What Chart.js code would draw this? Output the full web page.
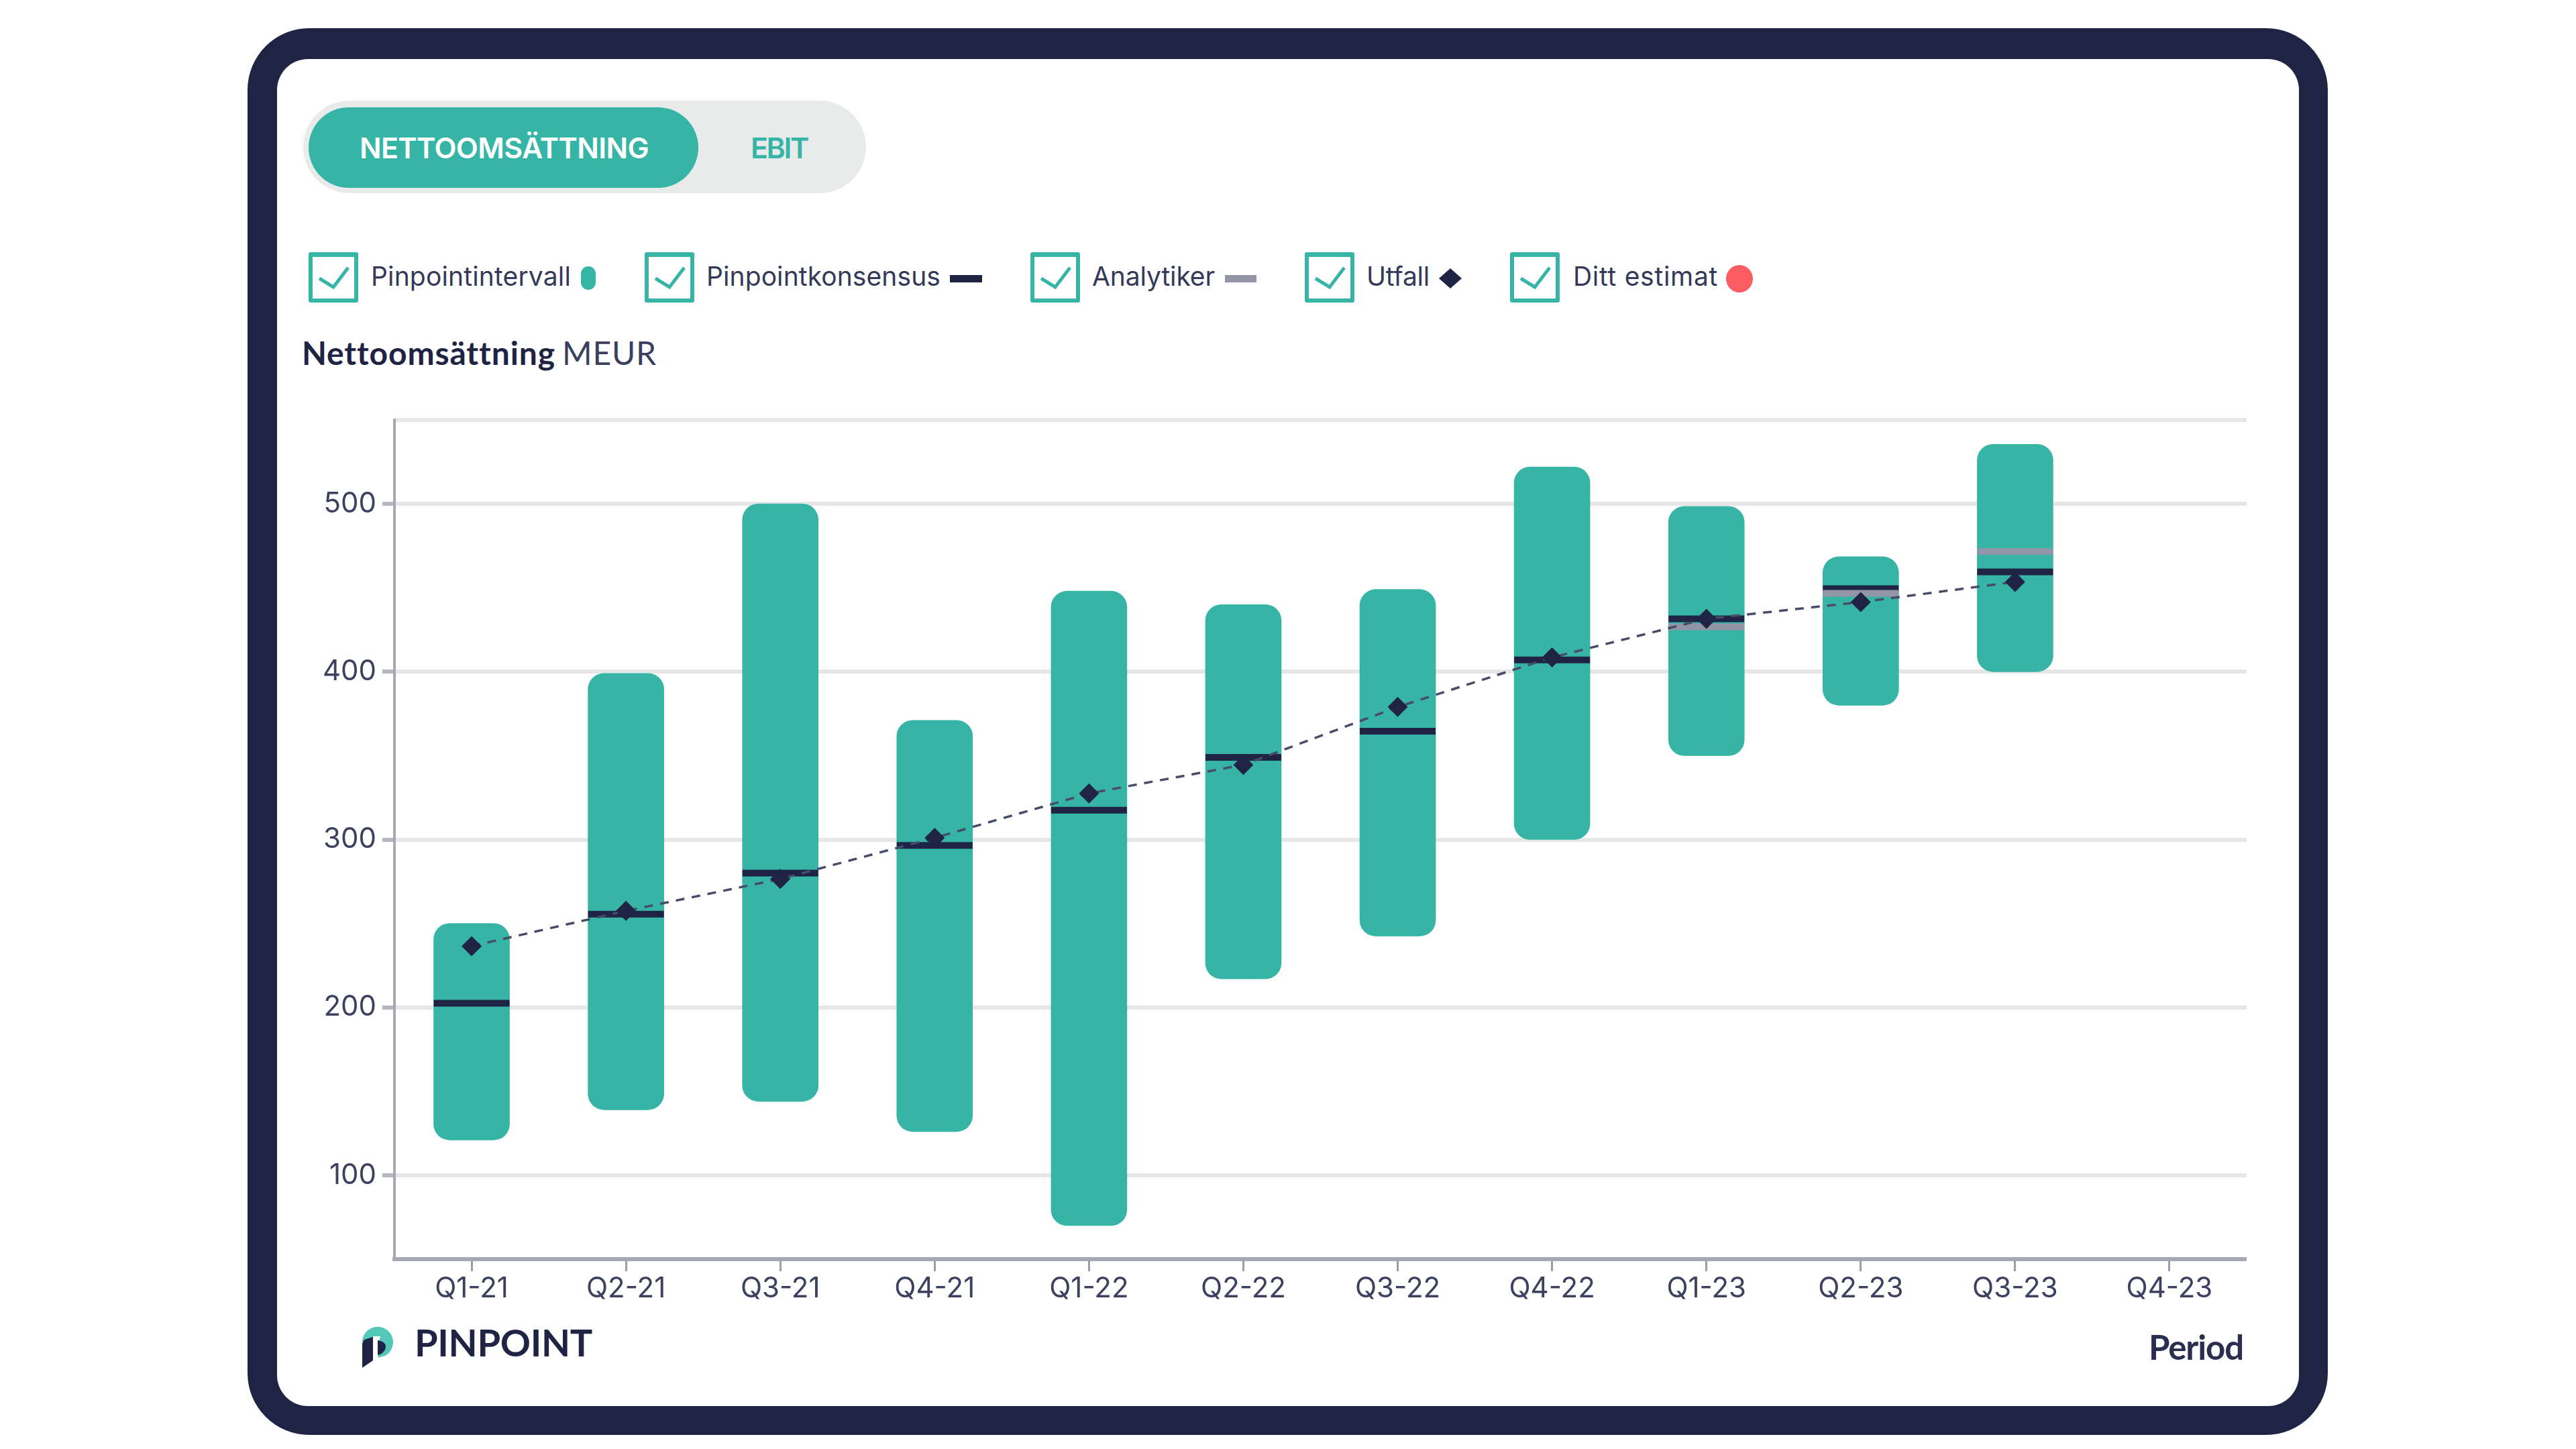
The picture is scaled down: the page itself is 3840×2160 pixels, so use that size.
<!DOCTYPE html>
<html lang="sv">
<head>
<meta charset="utf-8">
<title>Nettoomsättning MEUR</title>
<script src="https://cdn.jsdelivr.net/npm/chart.js@4/dist/chart.umd.min.js"></script>
<style>
html,body{margin:0;padding:0;background:#fff;width:3840px;height:2160px;overflow:hidden}
.b{position:absolute;box-sizing:border-box}
.t{position:absolute;white-space:nowrap;font-family:Inter,sans-serif;color:#343958}
#frame{left:369px;top:42px;width:3101px;height:2097px;background:#1f2445;border-radius:92px}
#inner{left:413px;top:88px;width:3014px;height:2008px;background:#fff;border-radius:46px}
#pill{left:452px;top:150px;width:839px;height:138px;background:#e9ebea;border-radius:69px}
#active{left:460px;top:160px;width:581px;height:120px;background:#36b5a7;border-radius:60px}
.cb{top:376px;width:74px;height:75px;border:6px solid #36b5a7;border-top-width:7px;border-radius:3px}
.cb svg{position:absolute;left:-6px;top:-7px;width:74px;height:75px}
canvas{position:absolute;left:430px;top:590px}
</style>
</head>
<body>
<div class="b" id="frame"></div>
<div class="b" id="inner"></div>
<div class="b" id="pill"></div>
<div class="b" id="active"></div>
<span class="t" data-x="536" data-b="236" data-w="431" style="font-size:43px;font-weight:600;color:#fff">NETTOOMSÄTTNING</span>
<span class="t" data-x="1119" data-b="236" data-w="85" style="font-size:43px;font-weight:600;color:#36b5a7">EBIT</span>

<div class="b cb" style="left:460px"><svg viewBox="0 0 74 75"><path d="M16 39L37 52L59 23" fill="none" stroke="#36b5a7" stroke-width="5"/></svg></div>
<span class="t" data-x="553" data-b="426" data-w="298" style="font-size:39px">Pinpointintervall</span>
<div class="b" style="left:866px;top:397px;width:22px;height:35px;border-radius:11px;background:#36b5a7"></div>

<div class="b cb" style="left:961px"><svg viewBox="0 0 74 75"><path d="M16 39L37 52L59 23" fill="none" stroke="#36b5a7" stroke-width="5"/></svg></div>
<span class="t" data-x="1053" data-b="426" data-w="349" style="font-size:39px">Pinpointkonsensus</span>
<div class="b" style="left:1416px;top:410px;width:48px;height:11px;background:#1f2445"></div>

<div class="b cb" style="left:1536px"><svg viewBox="0 0 74 75"><path d="M16 39L37 52L59 23" fill="none" stroke="#36b5a7" stroke-width="5"/></svg></div>
<span class="t" data-x="1628" data-b="426" data-w="183" style="font-size:39px">Analytiker</span>
<div class="b" style="left:1826px;top:410px;width:47px;height:11px;background:#9195a6"></div>

<div class="b cb" style="left:1945px"><svg viewBox="0 0 74 75"><path d="M16 39L37 52L59 23" fill="none" stroke="#36b5a7" stroke-width="5"/></svg></div>
<span class="t" data-x="2037" data-b="426" data-w="94" style="font-size:39px">Utfall</span>
<svg class="b" style="left:2145px;top:400px" width="34" height="30" viewBox="0 0 34 30"><path d="M17 0L34 15L17 30L0 15Z" fill="#1f2445"/></svg>

<div class="b cb" style="left:2251px"><svg viewBox="0 0 74 75"><path d="M16 39L37 52L59 23" fill="none" stroke="#36b5a7" stroke-width="5"/></svg></div>
<span class="t" data-x="2345" data-b="426" data-w="216" style="font-size:39px">Ditt estimat</span>
<div class="b" style="left:2573px;top:395px;width:40px;height:41px;border-radius:50%;background:#fb5d62"></div>

<span class="t" data-x="450" data-b="544" data-w="374" style="font-family:Lato,sans-serif;font-size:48px;font-weight:700;color:#1f2445">Nettoomsättning</span>
<span class="t" data-x="838" data-b="544" data-w="141" style="font-family:Lato,sans-serif;font-size:48px;font-weight:400;color:#3b4060">MEUR</span>

<canvas id="chart" width="2919" height="1370" style="width:2919px;height:1370px"></canvas>

<svg class="b" style="left:536px;top:1974px" width="54" height="68" viewBox="536 1974 54 68">
  <path d="M540 2002A23 23 0 1 1 574 2021L563 2024Z" fill="#55c7b8"/>
  <path d="M556 1992L567 1992L565 2000L563 2030L556 2030Z" fill="#fff"/>
  <path d="M540 2003L543 1997L556 1993L556 2028L540 2039Z" fill="#1f2445"/>
  <path d="M563 1998C571 1999 575 2003 575 2007C575 2014 569 2019 563 2020Z" fill="#1f2445"/>
</svg>
<span class="t" data-x="618" data-b="2022" data-w="265" style="font-family:Lato,sans-serif;font-size:56px;font-weight:700;color:#1f2445">PINPOINT</span>
<span class="t" data-x="3203" data-b="2027" data-w="141" style="font-family:Lato,sans-serif;font-size:51px;font-weight:700;color:#2a2f50">Period</span>

<script>
const categories = ['Q1-21','Q2-21','Q3-21','Q4-21','Q1-22','Q2-22','Q3-22','Q4-22','Q1-23','Q2-23','Q3-23','Q4-23'];
const intervalLow  = [121,139,144,126,70,217,242.5,300,350,380,400,null];
const intervalHigh = [250,399,500,371,448,440,449,522,498.5,468.5,535.5,null];
const consensus = [202.5,255.5,280,296.5,317.5,349,364.5,407,431.5,449.5,459.5,null];
const analysts  = [null,null,null,null,null,null,null,null,426.7,446.7,471.6,null];
const outcome   = [236.5,257.5,276.5,301,327.5,344.5,379,408.5,431.5,441.5,453.5,null];
const yTicks = [100,200,300,400,500,550];

// Text placement: align each label's baseline and fit it to its measured width
document.querySelectorAll('.t').forEach(el => {
  const m = document.createElement('i');
  m.style.cssText = 'display:inline-block;width:0;height:0';
  el.appendChild(m);
  el.style.left = el.dataset.x + 'px';
  el.style.top = '0px';
  const off = m.getBoundingClientRect().bottom;
  el.style.top = (el.dataset.b - off) + 'px';
  el.removeChild(m);
  const w = el.getBoundingClientRect().width;
  const n = el.textContent.length;
  el.style.letterSpacing = ((el.dataset.w - w) / n) + 'px';
});

new Chart(document.getElementById('chart'), {
  type: 'bar',
  data: {
    labels: categories,
    datasets: [
      { label: 'Pinpointintervall', order: 4,
        data: intervalLow.map((v, i) => v === null ? null : [v, intervalHigh[i]]),
        backgroundColor: '#36b5a7', barThickness: 113, borderRadius: 24, borderSkipped: false },
      { type: 'line', label: 'Pinpointkonsensus', order: 3, data: consensus, showLine: false,
        pointStyle: 'line', pointRadius: 56.5, pointBorderWidth: 10, pointBorderColor: '#1f2445', pointBackgroundColor: '#1f2445' },
      { type: 'line', label: 'Analytiker', order: 2, data: analysts, showLine: false,
        pointStyle: 'line', pointRadius: 56.5, pointBorderWidth: 10, pointBorderColor: '#9195a6', pointBackgroundColor: '#9195a6' },
      { type: 'line', label: 'Utfall', order: 1, data: outcome, tension: 0,
        borderColor: '#474c68', borderWidth: 3.5, borderDash: [13, 11],
        pointStyle: 'rectRot', pointRadius: 15, pointBorderWidth: 0, pointBackgroundColor: '#1f2445' }
    ]
  },
  options: {
    responsive: false,
    animation: false,
    devicePixelRatio: 1,
    layout: { autoPadding: false, padding: { top: 36, right: 0, left: 0, bottom: 0 } },
    plugins: { legend: { display: false }, tooltip: { enabled: false }, title: { display: false } },
    events: [],
    scales: {
      x: {
        offset: true,
        afterFit: s => { s.height = 83; },
        border: { color: '#a6a8b4', width: 6 },
        grid: { display: true, drawOnChartArea: false, drawTicks: true, tickLength: 18, tickColor: '#9a9cab', tickWidth: 3, color: '#9a9cab', offset: false },
        ticks: { font: { family: 'Inter', size: 42 }, color: '#3c4160', padding: 1, maxRotation: 0, autoSkip: false }
      },
      y: {
        min: 50, max: 550,
        afterBuildTicks: s => { s.ticks = yTicks.map(v => ({ value: v })); },
        afterFit: s => { s.width = 158; s.paddingTop = 0; s.paddingBottom = 0; },
        border: { color: '#a6a8b4', width: 4 },
        grid: {
          color: '#e6e6e6', lineWidth: 6, tickLength: 18, tickWidth: 6,
          tickColor: c => (c.tick && c.tick.value === 550) ? 'rgba(0,0,0,0)' : '#b5b6c0'
        },
        ticks: {
          font: { family: 'Inter', size: 42 }, color: '#3c4160', padding: 9,
          callback: v => v === 550 ? '' : String(v)
        }
      }
    }
  }
});
</script>
</body>
</html>
